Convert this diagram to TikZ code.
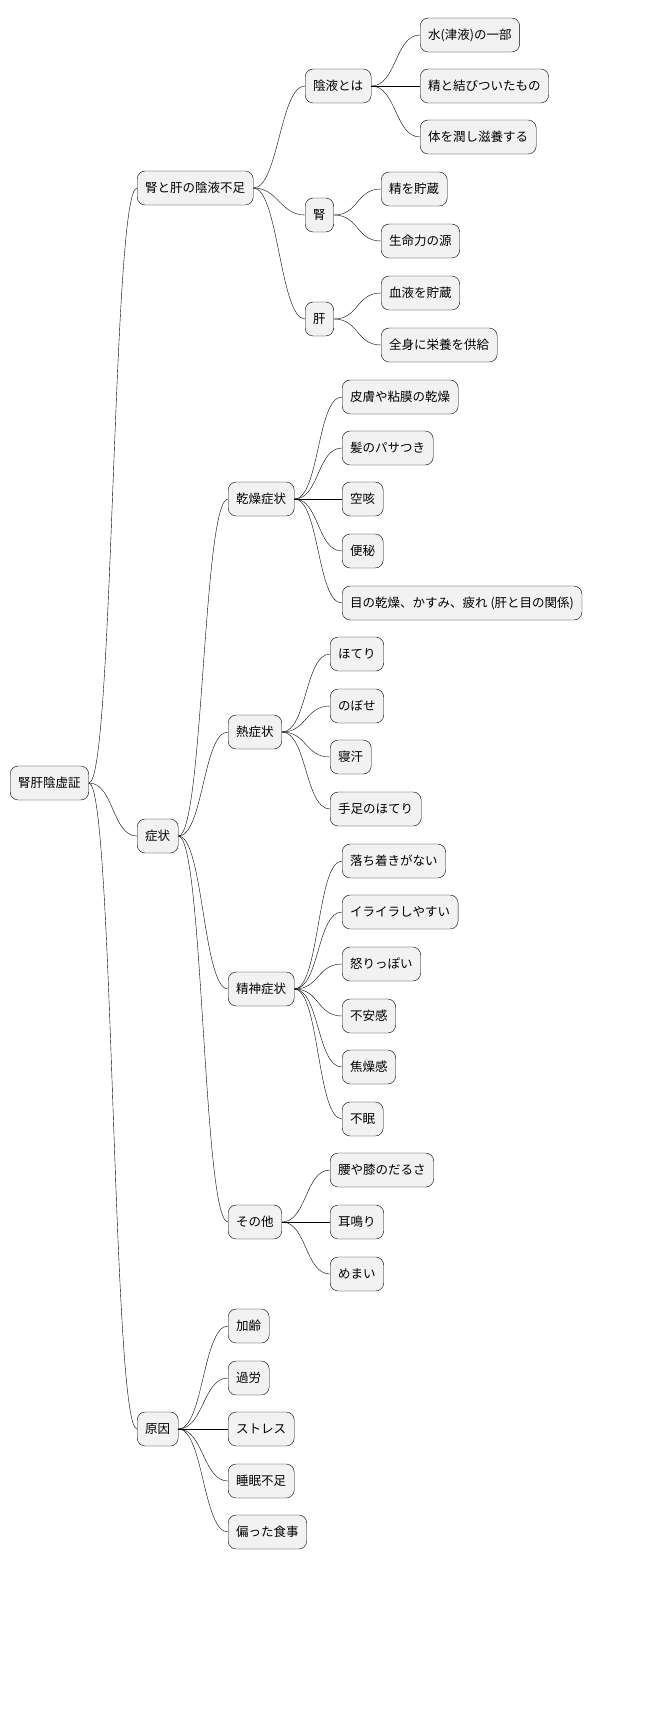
\documentclass[tikz,border=0pt]{standalone}
\usepackage{fontspec}
\setmainfont{Noto Sans CJK JP}
\usetikzlibrary{positioning}
\tikzset{
  topic/.style={draw=black,fill=gray!10,rounded corners=8pt,anchor=west,
    minimum height=34pt,inner xsep=8pt,font=\fontsize{12.5}{15}\selectfont},
  branch/.style={draw=black,thin},
}
\newcommand{\twig}[2]{\draw[branch] (#1.east) .. controls +(25,0) and +(-25,0) .. (#2.west);}
\begin{document}
\begin{tikzpicture}[x=1pt,y=-1pt]
	    \node[topic] (root) at (10,783) {腎肝陰虚証};
	    % first level
	    \node[topic] (lack) at (137,188) {腎と肝の陰液不足};
	    \node[topic] (symp) at (137,836) {症状};
	    \node[topic] (cause) at (137,1429) {原因};
	    % deficiency
	    \node[topic] (yin) at (305,86) {陰液とは};
	    \node[topic] (kid) at (305,215) {腎};
	    \node[topic] (liv) at (305,319) {肝};
	    \node[topic] (yin1) at (420,35) {水(津液)の一部};
	    \node[topic] (yin2) at (420,86) {精と結びついたもの};
	    \node[topic] (yin3) at (420,137) {体を潤し滋養する};
	    \node[topic] (kid1) at (381,189) {精を貯蔵};
	    \node[topic] (kid2) at (381,241) {生命力の源};
	    \node[topic] (liv1) at (381,293) {血液を貯蔵};
	    \node[topic] (liv2) at (381,345) {全身に栄養を供給};
	    % symptoms
	    \node[topic] (dry) at (228,499) {乾燥症状};
	    \node[topic] (heat) at (228,732) {熱症状};
	    \node[topic] (mind) at (228,989) {精神症状};
	    \node[topic] (misc) at (228,1222) {その他};
	    \node[topic] (dry1) at (342,397) {皮膚や粘膜の乾燥};
	    \node[topic] (dry2) at (342,448) {髪のパサつき};
	    \node[topic] (dry3) at (342,499) {空咳};
	    \node[topic] (dry4) at (342,551) {便秘};
	    \node[topic] (dry5) at (342,603) {目の乾燥、かすみ、疲れ (肝と目の関係)};
	    \node[topic] (heat1) at (330,654) {ほてり};
	    \node[topic] (heat2) at (330,706) {のぼせ};
	    \node[topic] (heat3) at (330,757) {寝汗};
	    \node[topic] (heat4) at (330,809) {手足のほてり};
	    \node[topic] (mind1) at (342,861) {落ち着きがない};
	    \node[topic] (mind2) at (342,912) {イライラしやすい};
	    \node[topic] (mind3) at (342,964) {怒りっぽい};
	    \node[topic] (mind4) at (342,1016) {不安感};
	    \node[topic] (mind5) at (342,1067) {焦燥感};
	    \node[topic] (mind6) at (342,1119) {不眠};
	    \node[topic] (misc1) at (330,1170) {腰や膝のだるさ};
	    \node[topic] (misc2) at (330,1222) {耳鳴り};
	    \node[topic] (misc3) at (330,1274) {めまい};
	    % causes
	    \node[topic] (cause1) at (228,1326) {加齢};
	    \node[topic] (cause2) at (228,1378) {過労};
	    \node[topic] (cause3) at (228,1429) {ストレス};
	    \node[topic] (cause4) at (228,1481) {睡眠不足};
	    \node[topic] (cause5) at (228,1532) {偏った食事};
	    % connectors
	    \foreach \a/\b in {root/lack,root/symp,root/cause,lack/yin,lack/kid,lack/liv,
	      yin/yin1,yin/yin2,yin/yin3,kid/kid1,kid/kid2,liv/liv1,liv/liv2,
	      symp/dry,symp/heat,symp/mind,symp/misc,
	      dry/dry1,dry/dry2,dry/dry3,dry/dry4,dry/dry5,
	      heat/heat1,heat/heat2,heat/heat3,heat/heat4,
	      mind/mind1,mind/mind2,mind/mind3,mind/mind4,mind/mind5,mind/mind6,
	      misc/misc1,misc/misc2,misc/misc3,
	      cause/cause1,cause/cause2,cause/cause3,cause/cause4,cause/cause5}
	      {\twig{\a}{\b}}
	    \pgfresetboundingbox
	    \path[use as bounding box] (0,0) rectangle (658,1709);
\end{tikzpicture}
\end{document}
